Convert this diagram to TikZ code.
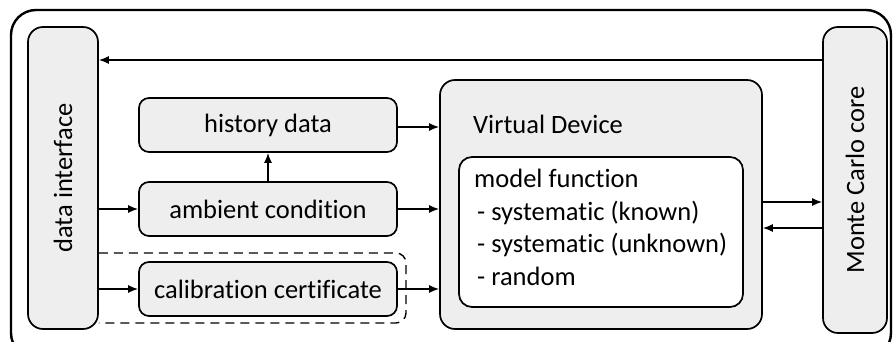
\documentclass[tikz,border=0pt]{standalone}
\usepackage{fontspec}
\setmainfont{Carlito}[Ligatures={NoCommon}]
\usetikzlibrary{arrows.meta}
\definecolor{boxfill}{HTML}{EEEEEE}
\tikzset{
  box/.style={draw=black, fill=boxfill, line width=1.7pt, rounded corners=10pt, inner sep=0pt},
  arr/.style={-{Latex[length=10pt,width=8pt]}, line width=1.5pt},
  lbl/.style={font=\fontsize{26.5}{32.5}\selectfont}
}
\begin{document}
\begin{tikzpicture}[x=1pt,y=-1pt]
\useasboundingbox (0,0) rectangle (893,342);
% outer frame
\draw[line width=2.4pt, rounded corners=25pt] (11,10) rectangle (891,358);
% side bars
\node[box, rounded corners=15pt, minimum width=70pt, minimum height=302pt, lbl] (DI) at (63,178) {\rotatebox{90}{data interface}};
\node[box, rounded corners=15pt, minimum width=64pt, minimum height=306pt, lbl] (MC) at (855,180) {\rotatebox{90}{Monte Carlo core}};
% input boxes
\node[box, minimum width=258pt, minimum height=54pt, lbl] (hist) at (268,125) {history data};
\node[box, minimum width=258pt, minimum height=54pt, lbl] (amb) at (268,209) {ambient condition};
\node[box, minimum width=258pt, minimum height=54pt, lbl] (cal) at (268,289) {calibration certificate};
% virtual device
\node[box, rounded corners=15pt, minimum width=322pt, minimum height=249pt] (VD) at (601,204.5) {};
\node[lbl, anchor=west, inner sep=0pt] (VDt) at (473,124) {Virtual Device};
\node[draw=black, fill=white, line width=1.7pt, rounded corners=13pt, minimum width=284pt, minimum height=150pt] (MF) at (601,232) {};
\node[lbl, anchor=north west, inner sep=0pt, align=left] (MFt) at (474,169)
  {model function\\\hspace*{3pt}- systematic (known)\\\hspace*{3pt}- systematic (unknown)\\\hspace*{3pt}- random};
% helper coordinates
\coordinate (ytop) at (0,60);
\coordinate (yh) at (0,127);
\coordinate (yf) at (0,202);
\coordinate (yb) at (0,228);
\coordinate (dtop) at (0,253);
\coordinate (dbot) at (0,323);
\coordinate (dright) at (406,0);
% connectors
\draw[arr] (MC.west |- ytop) -- (DI.east |- ytop);
\draw[arr] (DI.east |- amb.west) -- (amb.west);
\draw[arr] (DI.east |- cal.west) -- (cal.west);
\draw[arr] (amb.north) -- (hist.south);
\draw[arr] (hist.east |- yh) -- (VD.west |- yh);
\draw[arr] (amb.east) -- (VD.west |- amb.east);
\draw[arr] (cal.east) -- (VD.west |- cal.east);
\draw[arr] (VD.east |- yf) -- (MC.west |- yf);
\draw[arr] (MC.west |- yb) -- (VD.east |- yb);
% dashed group
\draw[line width=1.4pt, dash pattern=on 9pt off 6pt, rounded corners=10pt]
  (DI.east |- dtop) -- (dright |- dtop) -- (dright |- dbot) -- (DI.east |- dbot);
\end{tikzpicture}
\end{document}
